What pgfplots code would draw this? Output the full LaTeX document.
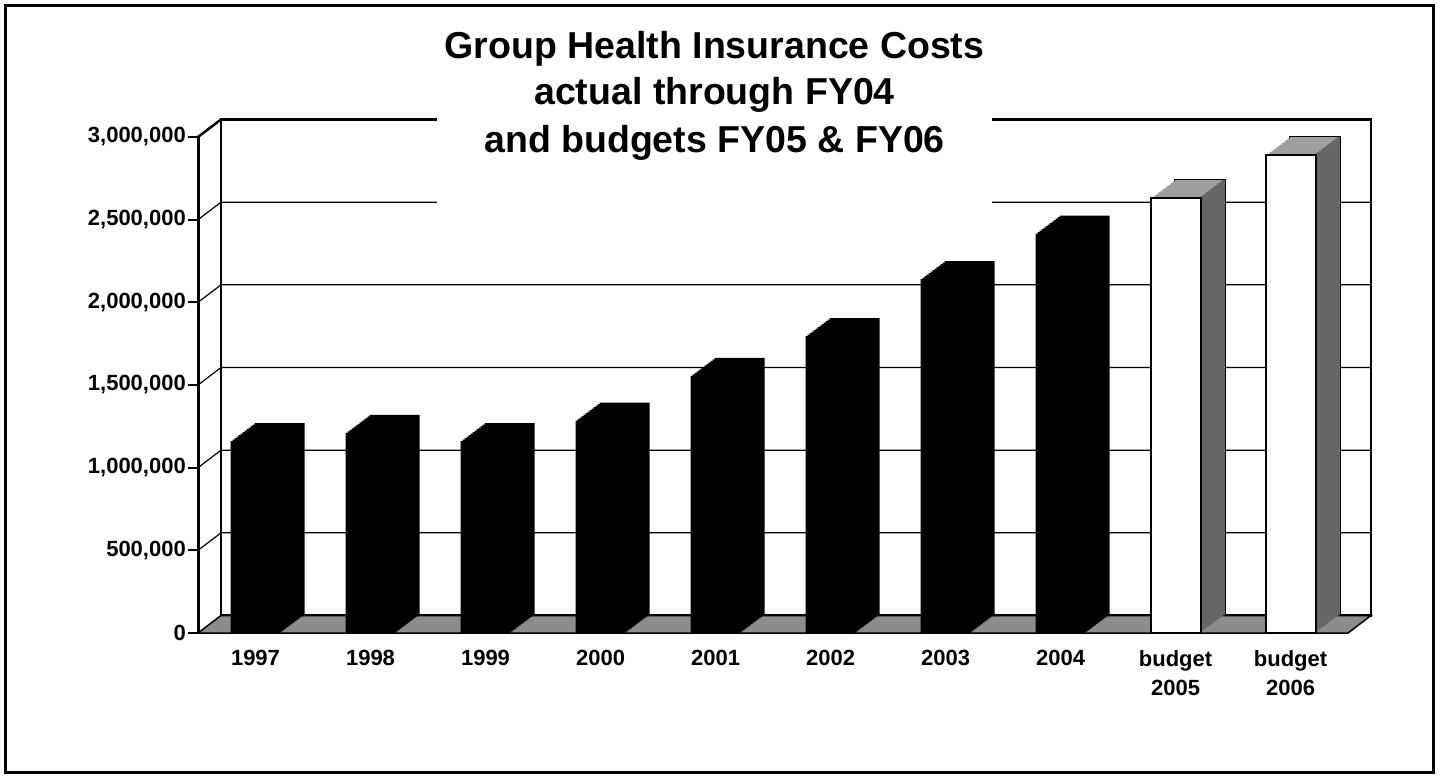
\documentclass[border=0pt]{standalone}
\usepackage{pgfplots}
\pgfplotsset{compat=1.18}
\usepackage{pgfplotstable}
\usepackage{fontspec}
\setmainfont{Liberation Sans}
\usetikzlibrary{shadows}

\definecolor{floorgray}{gray}{0.55}
\definecolor{topgray}{gray}{0.62}
\definecolor{sidegray}{gray}{0.40}

\pgfplotstableread{
x v
0 1160000
1 1210000
2 1160000
3 1285000
4 1555000
5 1795000
6 2140000
7 2415000
}\actual
\pgfplotstableread{
x v
8 2630000
9 2890000
}\budget

\tikzset{
  extrude/.style={
    general shadow={shadow xshift=2pt,shadow yshift=1.5pt,#1},
    general shadow={shadow xshift=4pt,shadow yshift=3pt,#1},
    general shadow={shadow xshift=6pt,shadow yshift=4.5pt,#1},
    general shadow={shadow xshift=8pt,shadow yshift=6pt,#1},
    general shadow={shadow xshift=10pt,shadow yshift=7.5pt,#1},
    general shadow={shadow xshift=12pt,shadow yshift=9pt,#1},
    general shadow={shadow xshift=14pt,shadow yshift=10.5pt,#1},
    general shadow={shadow xshift=16pt,shadow yshift=12pt,#1},
    general shadow={shadow xshift=18pt,shadow yshift=13.5pt,#1},
    general shadow={shadow xshift=20pt,shadow yshift=15pt,#1},
    general shadow={shadow xshift=22pt,shadow yshift=16.5pt,#1},
    general shadow={shadow xshift=24pt,shadow yshift=18pt,#1}
  }
}

\begin{document}
\begin{tikzpicture}
\useasboundingbox (0pt,0pt) rectangle (1440pt,777pt);
\begin{axis}[
  at={(198pt,144pt)}, anchor=south west,
  width=1150pt, height=496pt, scale only axis,
  xmin=-0.5, xmax=9.5, ymin=0, ymax=3000000,
  clip=false,
  axis line style={draw=none},
  xtick={0,1,2,3,4,5,6,7,8,9},
  xticklabels={1997,1998,1999,2000,2001,2002,2003,2004,{budget\\2005},{budget\\2006}},
  xticklabel style={align=center, font=\fontsize{22}{29}\selectfont\bfseries, yshift=-4pt},
  ytick={0,500000,1000000,1500000,2000000,2500000,3000000},
  yticklabels={0,{500,000},{1,000,000},{1,500,000},{2,000,000},{2,500,000},{3,000,000}},
  yticklabel style={font=\fontsize{22}{26}\selectfont\bfseries, inner xsep=2pt},
  scaled y ticks=false,
  xtick pos=bottom, ytick pos=left,
  tick align=outside,
  xtick style={draw=none},
  ytick style={line width=2pt, black},
  major tick length=10pt,
]
% back wall gridlines and left wall diagonals
\pgfplotsinvokeforeach{500000,1000000,1500000,2000000,2500000}{
  \draw[line width=1.2pt] (axis cs:-0.5,#1) -- ++(23pt,17.5pt) -- ([shift={(23pt,17.5pt)}]axis cs:9.5,#1);
}
\draw[line width=2.5pt] (axis cs:-0.5,3000000) -- ++(23pt,17.5pt);
\draw[line width=2.5pt] ([shift={(23pt,17.5pt)}]axis cs:-0.5,0) rectangle ([shift={(23pt,17.5pt)}]axis cs:9.5,3000000);
% floor
\filldraw[fill=floorgray, draw=black, line width=1.5pt] (axis cs:-0.5,0) -- ++(23pt,17.5pt) -- ([shift={(23pt,17.5pt)}]axis cs:9.5,0) -- (axis cs:9.5,0) -- cycle;
% front axis line
\draw[line width=3pt] (axis cs:-0.5,0) -- (axis cs:-0.5,3000000);

% actual bars (black, extruded)
\addplot[ybar, bar width=50pt, bar shift=0pt, fill=black, draw=none, extrude={fill=black, draw=none}]
  table[x=x,y=v]{\actual};
% budget bars: top face copies
\addplot[ybar, bar width=50pt, bar shift=0pt, draw=none, fill=none,
  general shadow={shadow xshift=24pt,shadow yshift=18pt,fill=topgray,draw=black,line width=2pt},
  extrude={fill=topgray, draw=none}]
  table[x=x,y=v]{\budget};
% budget bars: side face copies
\addplot[ybar, bar width=2.4pt, bar shift=23.8pt, draw=none, fill=none,
  extrude={fill=sidegray, draw=none}]
  table[x=x,y=v]{\budget};
% budget bars: front faces
\addplot[ybar, bar width=50pt, bar shift=0pt, fill=white, draw=black, line width=2pt]
  table[x=x,y=v]{\budget};
\end{axis}
% title box and title
\fill[white] (437pt,557pt) rectangle (992pt,767pt);
\node[anchor=base, font=\fontsize{37.5}{47}\selectfont\bfseries] at (714.5pt,718.5pt) {Group Health Insurance Costs};
\node[anchor=base, font=\fontsize{37.5}{47}\selectfont\bfseries] at (714.5pt,672pt) {actual through FY04};
\node[anchor=base, font=\fontsize{37.5}{47}\selectfont\bfseries] at (714.5pt,624pt) {and budgets FY05 \& FY06};
% outer frame
\draw[line width=3pt] (5.5pt,4.5pt) rectangle (1433.5pt,771pt);
\end{tikzpicture}
\end{document}
